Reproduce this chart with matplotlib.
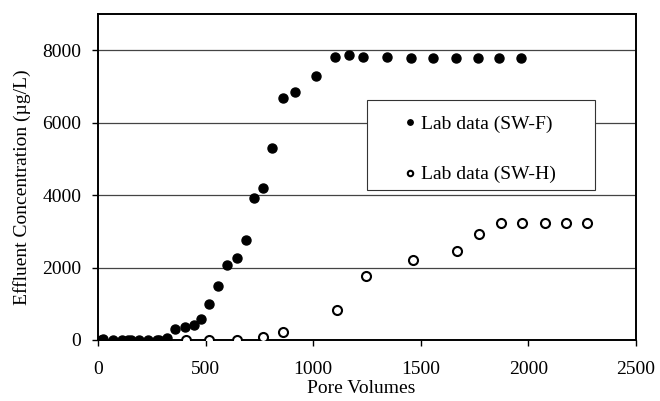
import matplotlib
matplotlib.use("Agg")
import matplotlib.pyplot as plt
from matplotlib.patches import Rectangle

plt.rcParams["font.family"] = ["Liberation Serif", "DejaVu Serif"]

# lab data, SW-F (filled)
pv_f = [15, 25, 68, 112, 140, 153, 192, 231, 275, 285, 322, 358, 406, 445, 477,
        517, 559, 601, 646, 686, 725, 768, 809, 861, 915, 1013,
        1101, 1166, 1233, 1344, 1455, 1558, 1664, 1764, 1865, 1964]
conc_f = [0, 30, 0, 0, 0, 0, 0, 0, 0, 0, 46, 296, 352, 415, 573,
          1006, 1496, 2069, 2271, 2770, 3920, 4200, 5290, 6676, 6850, 7300,
          7800, 7860, 7800, 7800, 7780, 7780, 7780, 7780, 7780, 7780]

# lab data, SW-H (open)
pv_h = [407, 517, 646, 768, 861, 1109, 1244, 1462, 1670, 1772,
        1873, 1970, 2077, 2173, 2271]
conc_h = [0, 0, 0, 92, 230, 830, 1773, 2207, 2465, 2917,
          3240, 3240, 3240, 3240, 3240]

fig = plt.figure(figsize=(6.6, 4.01), dpi=100)
ax = fig.add_axes([98 / 660, 1 - 340 / 401, 538 / 660, 326 / 401])

ax.plot(pv_f, conc_f, "o", color="black", markersize=6.5, label="Lab data (SW-F)", zorder=3)
ax.plot(pv_h, conc_h, "o", markerfacecolor="white", markeredgecolor="black",
        markeredgewidth=1.5, markersize=6.5, label="Lab data (SW-H)", zorder=3)

ax.set_xlim(0, 2500)
ax.set_ylim(0, 9000)
ax.set_xticks([0, 500, 1000, 1500, 2000, 2500])
ax.set_yticks([0, 2000, 4000, 6000, 8000])
ax.yaxis.grid(True, color="#444444", linewidth=0.9)
ax.set_axisbelow(True)
ax.tick_params(labelsize=14, direction="out", length=4, width=1)
ax.tick_params(axis="x", pad=11)
ax.tick_params(axis="y", pad=8)
for s in ax.spines.values():
    s.set_linewidth(1.4)
    s.set_color("black")

ax.set_xlabel("Pore Volumes", fontsize=14)
ax.set_ylabel("Effluent Concentration (\u00b5g/L)", fontsize=14)
ax.xaxis.set_label_coords(0.489, -0.122)
ax.yaxis.set_label_coords(-0.124, 0.47)

# legend box
box = Rectangle((0.5, 0.46), 0.424, 0.276, transform=ax.transAxes,
                facecolor="white", edgecolor="#333333", linewidth=0.8, zorder=4)
ax.add_patch(box)
leg = ax.legend(loc="upper left", bbox_to_anchor=(0.571, 0.69), fontsize=14,
                frameon=False, markerscale=0.6, handlelength=0.5, handletextpad=0.3,
                borderpad=0, labelspacing=1.7, borderaxespad=0)
leg.set_zorder(5)

fig.savefig("out.png", dpi=100)
